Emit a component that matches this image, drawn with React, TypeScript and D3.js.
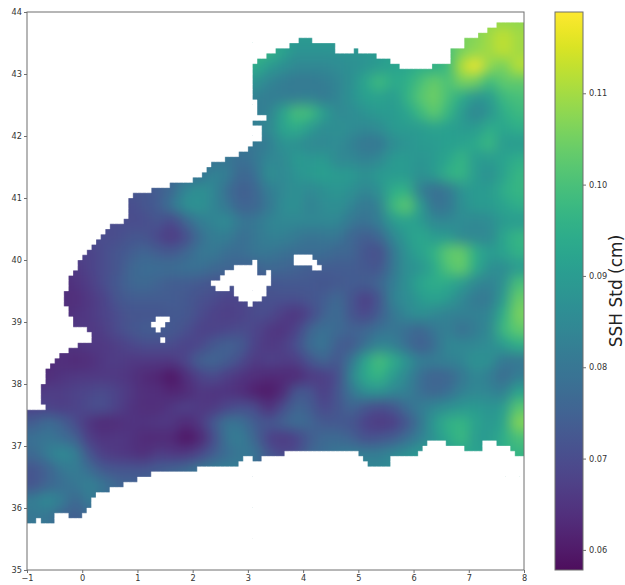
import { useEffect, useRef } from 'react';
import * as d3 from 'd3';

// SSH std in thousandths, 0.25 deg cells, north to south, west to east. Values under land are just nearest sea.
const sshRows: number[][] = [
  [90,90,90,90,90,90,90,90,90,90,90,90,90,90,90,90,90,90,90,90,90,90,90,90,90,90,92,92,92,95,95,105,106,108,108,108],
  [90,90,90,90,90,90,90,90,90,90,90,90,90,90,90,90,90,90,90,90,90,90,90,92,92,92,95,95,97,100,103,106,107,110,113,110],
  [95,95,95,95,95,95,95,95,95,95,95,95,95,95,95,95,97,97,92,88,88,88,88,88,89,90,92,93,94,96,100,106,108,110,113,110],
  [92,92,92,92,92,92,92,92,92,92,92,92,92,92,92,92,95,90,87,85,85,85,86,87,88,90,92,93,95,95,98,112,118,108,105,112],
  [88,88,88,88,88,88,88,88,88,88,88,88,88,88,88,88,88,84,82,81,81,82,84,87,93,99,94,95,100,104,100,106,105,98,103,103],
  [83,83,83,83,83,83,83,83,83,83,83,83,83,83,83,83,83,82,82,82,83,81,84,88,91,92,90,96,102,105,100,94,88,90,98,100],
  [82,82,82,82,82,82,82,82,82,82,82,82,82,82,82,82,82,83,92,100,99,91,85,86,88,90,90,92,98,103,97,90,84,88,95,98],
  [82,82,82,82,82,82,82,82,82,82,82,82,82,82,82,82,83,85,92,95,90,86,87,86,85,86,90,90,90,92,91,90,90,95,93,95],
  [80,80,80,80,80,80,80,80,80,80,80,80,80,80,80,80,80,82,88,87,85,85,86,83,80,80,86,88,90,90,91,92,94,98,90,90],
  [78,78,78,78,78,78,78,78,78,78,78,78,78,79,80,78,80,85,85,90,89,90,85,85,83,85,90,90,88,90,93,97,90,90,92,95],
  [76,76,76,76,76,76,76,76,76,76,76,78,79,84,82,76,78,87,85,88,90,91,90,90,87,90,90,90,87,90,96,97,90,87,92,97],
  [72,72,72,72,72,72,72,72,72,74,77,85,87,85,78,74,76,82,85,87,85,87,89,87,84,87,95,96,82,78,80,88,90,90,95,97],
  [70,70,70,70,70,70,70,70,72,74,80,87,88,84,80,75,76,80,86,87,83,86,87,84,80,83,98,103,90,79,80,87,90,90,92,95],
  [70,70,70,70,70,70,70,70,70,72,69,76,82,84,86,80,80,84,85,85,85,85,85,80,79,82,90,92,90,85,85,86,85,86,90,90],
  [70,70,70,70,70,70,70,72,72,69,66,70,78,82,82,78,80,83,83,81,79,80,80,76,74,76,85,90,94,90,90,85,85,85,93,97],
  [68,68,68,68,68,70,72,74,76,74,73,76,80,81,78,78,80,80,79,78,78,78,76,76,72,70,80,88,92,96,103,104,95,90,92,96],
  [66,66,66,66,68,70,72,76,78,78,78,79,79,77,76,75,75,77,76,75,74,74,74,74,73,72,80,87,88,94,101,104,94,87,86,90],
  [64,64,64,65,67,70,73,76,77,75,74,74,73,72,72,72,72,72,73,73,73,72,73,74,74,76,82,87,93,95,94,90,85,83,87,100],
  [64,64,64,64,66,68,72,74,74,74,74,73,71,70,68,69,70,71,71,71,72,74,77,72,67,72,84,86,90,92,90,85,81,81,90,104],
  [64,64,64,65,66,68,70,72,72,72,73,73,70,68,67,68,70,70,67,65,69,75,78,72,69,74,80,85,87,85,83,83,83,84,95,106],
  [66,66,66,66,66,67,70,72,74,74,73,71,68,68,69,70,69,66,65,68,76,79,77,75,76,79,80,78,76,80,83,78,82,85,98,103],
  [65,65,65,65,66,66,67,69,70,70,70,68,69,73,75,74,68,66,67,71,78,80,74,73,79,84,83,78,74,78,85,85,85,86,90,95],
  [63,63,64,63,64,66,67,66,66,66,66,69,75,76,74,70,66,68,67,67,72,76,72,80,93,100,95,88,82,82,83,84,88,87,80,80],
  [63,64,65,66,66,66,66,65,63,62,59,64,68,70,67,65,64,63,63,63,66,67,70,85,94,97,90,85,78,75,76,80,85,82,77,82],
  [66,67,67,68,69,70,68,66,64,64,62,63,66,65,65,64,61,60,63,73,72,67,72,80,87,88,85,83,78,76,78,83,85,84,82,92],
  [68,68,67,68,70,71,68,65,64,64,66,68,66,66,69,71,70,64,70,76,74,69,72,76,72,70,72,78,82,85,87,89,90,88,90,102],
  [74,78,75,70,65,63,64,65,65,66,66,63,66,73,80,79,74,72,75,78,76,73,73,72,68,66,67,72,80,90,96,97,92,89,92,107],
  [79,80,78,75,67,65,66,65,63,63,63,59,62,70,80,82,76,68,66,68,74,77,77,75,71,72,74,78,83,88,94,98,90,90,95,100],
  [77,82,86,83,72,67,66,65,64,67,66,66,69,74,78,80,80,72,69,70,76,78,80,82,82,82,85,87,90,90,90,93,92,91,95,97],
  [72,75,80,82,78,73,72,72,72,74,75,77,80,82,82,82,78,74,75,78,80,80,82,84,85,85,86,88,90,90,90,90,90,90,92,95],
  [72,76,78,80,83,80,76,75,75,75,77,78,80,82,82,82,80,80,80,80,80,80,82,84,85,85,86,88,90,90,90,90,90,90,92,95],
  [82,86,82,76,82,78,76,75,75,75,77,78,80,82,82,82],
  [80,80,76,74,77,78,76,75,75,75,77,78,80,82,82,82],
  [80,80,76,74,77,78,76,75,75,75,77,78,80,82,82,82],
];

// coast outlines, [lon, lat]
const northLand: [number, number][] = [
  [-1,44],[8,44],[8,43.85],[7.78,43.84],[7.53,43.81],[7.35,43.71],[7.17,43.66],[7.08,43.56],[6.93,43.55],[6.9,43.45],
  [6.71,43.44],[6.66,43.19],[6.39,43.18],[6.35,43.11],[5.94,43.1],[5.79,43.08],[5.77,43.15],[5.57,43.23],[5.39,43.23],
  [5.36,43.35],[5.03,43.35],[4.99,43.44],[4.9,43.44],[4.9,43.35],[4.58,43.35],[4.56,43.48],[4.16,43.5],[4.12,43.56],
  [3.94,43.56],[3.76,43.47],[3.58,43.39],[3.36,43.31],[3.17,43.23],[3.09,43.1],[3.07,42.56],[3.17,42.55],[3.18,42.35],
  [3.31,42.34],[3.31,42.29],[3.09,42.29],[3.09,42.15],[3.22,42.13],[3.22,41.9],[3.13,41.9],[2.95,41.77],[2.86,41.74],
  [2.73,41.66],[2.53,41.61],[2.31,41.52],[2.19,41.4],[2.08,41.31],[1.81,41.26],[1.46,41.19],[1.17,41.11],[0.99,41.08],
  [0.87,41],[0.81,40.92],[0.79,40.81],[0.9,40.73],[0.68,40.6],[0.54,40.61],[0.45,40.45],[0.18,40.19],[0.01,40.05],
  [-0.13,39.84],[-0.28,39.63],[-0.31,39.31],[-0.26,39.24],[-0.2,39.03],[-0.08,38.9],[0.1,38.87],[0.23,38.77],[0.1,38.68],
  [-0.08,38.65],[-0.19,38.55],[-0.37,38.5],[-0.53,38.35],[-0.64,38.19],[-0.73,37.94],[-0.73,37.69],[-0.69,37.61],
  [-0.91,37.61],[-1,37.56],
];
const southLand: [number, number][] = [
  [-1,35],[-1,35.73],[-0.84,35.74],[-0.84,35.81],[-0.78,35.81],[-0.76,35.77],[-0.55,35.77],[-0.49,35.92],[-0.31,35.94],
  [-0.26,35.85],[0,35.85],[0.1,36],[0.2,36.13],[0.32,36.24],[0.59,36.34],[0.92,36.42],[1.05,36.52],[1.35,36.56],
  [1.83,36.58],[2.21,36.65],[2.71,36.66],[2.91,36.77],[2.98,36.84],[3.07,36.84],[3.07,36.77],[3.26,36.77],[3.26,36.81],
  [3.58,36.81],[3.6,36.85],[3.76,36.92],[4.52,36.92],[4.54,36.89],[4.94,36.89],[5.03,36.82],[5.16,36.69],[5.54,36.69],
  [5.61,36.81],[5.72,36.84],[6.03,36.84],[6.17,36.92],[6.3,37.06],[6.52,37.08],[6.62,36.98],[6.9,36.97],[6.91,36.89],
  [7.06,36.89],[7.2,36.94],[7.26,36.98],[7.22,37.1],[7.42,37.08],[7.57,36.98],[7.78,36.97],[7.84,36.85],[8,36.84],[8,35],
];
const mallorca: [number, number][] = [
  [2.37,39.63],[2.68,39.84],[3,39.95],[3.18,39.97],[3.2,39.76],[3.35,39.81],[3.47,39.73],[3.27,39.4],[3.07,39.27],
  [2.77,39.42],[2.71,39.55],[2.53,39.48],[2.37,39.56],
];
const cabrera: [number, number][] = [[2.91,39.19],[2.98,39.19],[2.98,39.15],[2.91,39.15]];
const ibiza: [number, number][] = [[1.25,38.95],[1.32,39.08],[1.59,39.13],[1.63,39],[1.44,38.95],[1.41,38.85],[1.26,38.92]];
const formentera: [number, number][] = [[1.41,38.76],[1.5,38.76],[1.55,38.69],[1.41,38.69]];
const menorca: [number, number][] = [
  [3.8,40.05],[4,40.08],[4.18,40.11],[4.22,40],[4.31,39.92],[4.31,39.82],[4.09,39.92],[4,39.95],[3.85,39.95],
];
const landPolys = [northLand, southLand, mallorca, cabrera, ibiza, formentera, menorca];

const lonTicks = [-1, 0, 1, 2, 3, 4, 5, 6, 7, 8];
const latTicks = [35, 36, 37, 38, 39, 40, 41, 42, 43, 44];
const cbarTicks = [0.06, 0.07, 0.08, 0.09, 0.1, 0.11];

const width = 625;
const height = 585;
const spine = '#6f6f6f';
const tickText = '#333';
const fieldAlpha = 0.95;

export default function App() {
  const svgRef = useRef<SVGSVGElement>(null);

  useEffect(() => {
    const svg = d3.select(svgRef.current);
    svg.selectAll('*').remove();

    const x = d3.scaleLinear().domain([-1, 8]).range([27, 524]);
    const y = d3.scaleLinear().domain([35, 44]).range([570, 12]);
    const color = d3.scaleSequential(d3.interpolateViridis).domain([0.0578, 0.1189]);
    const cbarY = d3.scaleLinear().domain([0.0578, 0.1189]).range([570, 12]);

    const defs = svg.append('defs');
    defs.append('clipPath').attr('id', 'plot-clip')
      .append('rect')
      .attr('x', x(-1)).attr('y', y(44))
      .attr('width', x(8) - x(-1)).attr('height', y(35) - y(44));
    defs.append('filter').attr('id', 'smooth')
      .attr('filterUnits', 'userSpaceOnUse')
      .attr('x', -60).attr('y', -60).attr('width', width + 120).attr('height', height + 120)
      .attr('color-interpolation-filters', 'sRGB')
      .append('feGaussianBlur').attr('stdDeviation', 6.5);

    const barGrad = defs.append('linearGradient').attr('id', 'bar-grad')
      .attr('x1', 0).attr('y1', 1).attr('x2', 0).attr('y2', 0);
    d3.range(0, 33).forEach(d => {
      barGrad.append('stop')
        .attr('offset', d / 32)
        .attr('stop-color', d3.interpolateViridis(d / 32));
    });

    const plot = svg.append('g').attr('clip-path', 'url(#plot-clip)');

    // coarse cells, blurred to get the shading of the original. Edge cells run past the frame so the blur doesn't fade
    const cells = plot.append('g').attr('filter', 'url(#smooth)').attr('opacity', fieldAlpha);
    const step = 0.25;
    const pad = 30;
    sshRows.forEach((row, j) => {
      const latTop = 44 - j * step;
      cells.selectAll(null)
        .data(row)
        .enter()
        .append('rect')
        .attr('x', (_, i) => x(-1 + i * step) - (i === 0 ? pad : 0))
        .attr('y', y(latTop) - (j === 0 ? pad : 0))
        .attr('width', (_, i) => x(step) - x(0) + 1 + (i === 0 || i === row.length - 1 ? pad : 0))
        .attr('height', y(0) - y(step) + 1 + (j === 0 ? pad : 0))
        .attr('fill', d => color(d / 1000));
    });

    // land mask on the 1/12 deg model grid, gives the stepped coast
    const fine = 1 / 12;
    let landPath = '';
    d3.range(108).forEach(j => {
      const lat = 44 - (j + 0.5) * fine;
      d3.range(108).forEach(i => {
        const lon = -1 + (i + 0.5) * fine;
        if (landPolys.some(p => d3.polygonContains(p, [lon, lat]))) {
          const x0 = x(lon - fine / 2);
          const x1 = x(lon + fine / 2);
          const y0 = y(lat + fine / 2);
          const y1 = y(lat - fine / 2);
          landPath += `M${x0},${y0}H${x1}V${y1}H${x0}Z`;
        }
      });
    });
    plot.append('path').attr('d', landPath).attr('fill', '#fff').attr('stroke', '#fff').attr('stroke-width', 0.3);

    // main axes
    const xAxis = svg.append('g')
      .attr('transform', `translate(0,${y(35)})`)
      .call(d3.axisBottom(x).tickValues(lonTicks).tickSize(3).tickPadding(2).tickFormat(d3.format('d')));
    const yAxis = svg.append('g')
      .attr('transform', `translate(${x(-1)},0)`)
      .call(d3.axisLeft(y).tickValues(latTicks).tickSize(3).tickPadding(2).tickFormat(d3.format('d')));

    svg.append('rect')
      .attr('x', x(-1)).attr('y', y(44))
      .attr('width', x(8) - x(-1)).attr('height', y(35) - y(44))
      .attr('fill', 'none').attr('stroke', spine).attr('stroke-width', 1);

    // colorbar
    svg.append('rect')
      .attr('x', 555).attr('y', cbarY(0.1189))
      .attr('width', 28).attr('height', cbarY(0.0578) - cbarY(0.1189))
      .attr('fill', 'url(#bar-grad)').attr('fill-opacity', fieldAlpha)
      .attr('stroke', spine).attr('stroke-width', 1);
    const cAxis = svg.append('g')
      .attr('transform', 'translate(583,0)')
      .call(d3.axisRight(cbarY).tickValues(cbarTicks).tickSize(3).tickPadding(3).tickFormat(d3.format('.2f')));

    [xAxis, yAxis, cAxis].forEach(a => {
      a.select('.domain').remove();
      a.selectAll('line').attr('stroke', spine);
      a.selectAll('text')
        .attr('font-family', 'DejaVu Sans')
        .attr('font-size', 8.2)
        .attr('fill', tickText);
    });

    svg.append('text')
      .attr('transform', 'translate(622,291) rotate(-90)')
      .attr('text-anchor', 'middle')
      .attr('font-family', 'DejaVu Sans')
      .attr('font-size', 17)
      .attr('fill', '#222')
      .text('SSH Std (cm)');
  }, []);

  return (
    <svg
      ref={svgRef}
      width={width}
      height={height}
      style={{ position: 'absolute', left: 0, top: 0, background: '#fff' }}
    />
  );
}
